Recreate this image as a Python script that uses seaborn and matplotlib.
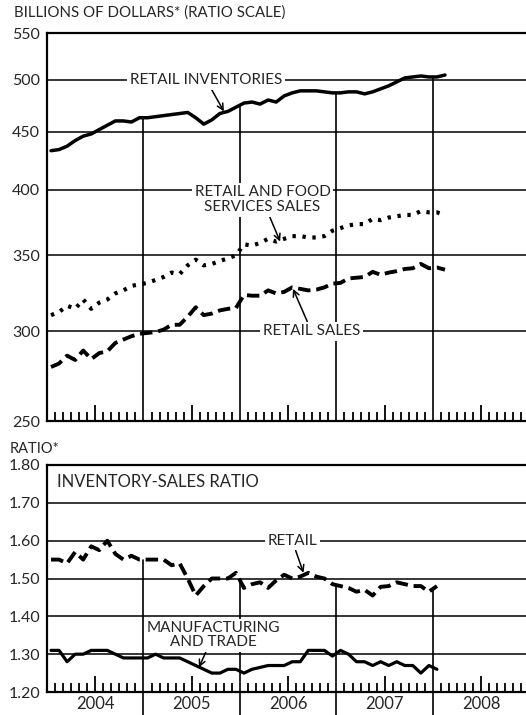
import matplotlib
matplotlib.use("Agg")
import matplotlib.pyplot as plt
import numpy as np
import seaborn as sns

# monthly data, Jan 2004 onward
inventories = [433, 434, 437, 442, 446, 448, 452, 456, 460, 460, 459, 463,
               463, 464, 465, 466, 467, 468, 463, 457, 461, 467, 469, 473,
               477, 478, 476, 480, 478, 484, 487, 489, 489, 489, 488, 487,
               487, 488, 488, 486, 488, 491, 494, 498, 502, 503, 504, 503,
               503, 505]
retail_food_sales = [310, 312, 316, 314, 320, 314, 318, 320, 324, 326, 329, 330,
                     331, 333, 335, 338, 337, 343, 347, 343, 344, 346, 348, 350,
                     358, 357, 359, 362, 360, 362, 364, 364, 363, 363, 364, 368,
                     370, 372, 373, 373, 377, 376, 378, 379, 380, 380, 383, 382,
                     382, 380]
retail_sales = [279, 281, 285.5, 283, 288.5, 283.5, 287, 288, 293, 295, 297, 298.5,
                299, 299.5, 301, 304, 304, 309, 315, 310, 311, 313, 314, 314.5,
                323, 322.5, 322.5, 326, 324, 325, 328, 327, 326, 326.5, 328, 330.5,
                331, 334, 334.5, 335, 338.5, 336.5, 338, 339, 340.5, 341, 344, 341,
                341.5, 340]
retail_ratio = [1.55, 1.55, 1.54, 1.57, 1.55, 1.585, 1.575, 1.60, 1.565, 1.55, 1.56, 1.55,
                1.55, 1.55, 1.55, 1.535, 1.54, 1.50, 1.455, 1.48, 1.50, 1.50, 1.50, 1.515,
                1.475, 1.485, 1.49, 1.475, 1.495, 1.51, 1.50, 1.505, 1.515, 1.505, 1.50, 1.485,
                1.48, 1.475, 1.465, 1.47, 1.455, 1.478, 1.48, 1.49, 1.485, 1.48, 1.48, 1.465,
                1.48]
mfg_trade_ratio = [1.31, 1.31, 1.28, 1.30, 1.30, 1.31, 1.31, 1.31, 1.30, 1.29, 1.29, 1.29,
                   1.29, 1.30, 1.29, 1.29, 1.29, 1.28, 1.27, 1.26, 1.25, 1.25, 1.26, 1.26,
                   1.25, 1.26, 1.265, 1.27, 1.27, 1.27, 1.28, 1.28, 1.31, 1.31, 1.31, 1.295,
                   1.31, 1.30, 1.28, 1.28, 1.27, 1.28, 1.27, 1.28, 1.27, 1.27, 1.25, 1.27,
                   1.26]
years = ["2004", "2005", "2006", "2007", "2008"]
dollar_ticks = [250, 300, 350, 400, 450, 500, 550]
ratio_ticks = [1.20, 1.30, 1.40, 1.50, 1.60, 1.70, 1.80]

sns.set_style("white")
plt.rcParams["font.family"] = ["Lato", "DejaVu Sans"]
plt.rcParams["font.size"] = 11

W, H = 526, 715
x_sales = np.arange(len(inventories)) + 0.5
x_ratio = np.arange(len(retail_ratio)) + 0.5
year_edges = [12, 24, 36, 48]
xmax = (W - 47) / 8.04

fig = plt.figure(figsize=(W / 100, H / 100), dpi=100)
ax1 = fig.add_axes([47 / W, 1 - 421 / H, 1 - 47 / W, (421 - 33) / H])
ax2 = fig.add_axes([47 / W, 1 - 692 / H, 1 - 47 / W, (692 - 465) / H])

minor = [m for m in range(1, 60) if m % 12 not in (0, 6)]
major = [6 + 12 * i for i in range(5)]

for ax in (ax1, ax2):
    ax.set_xlim(0, xmax)
    for side in ("left", "bottom", "top"):
        ax.spines[side].set_linewidth(1.6)
        ax.spines[side].set_color("black")
    ax.spines["right"].set_visible(False)
    ax.set_xticks(minor, minor=True)
    ax.set_xticks(major)
    ax.tick_params(axis="x", which="both", bottom=True, top=False)
    ax.tick_params(axis="x", which="major", direction="in", length=11.5, width=1.3, color="black")
    ax.tick_params(axis="x", which="minor", direction="in", length=6.5, width=1.3, color="black")
    ax.tick_params(axis="y", which="both", length=0, pad=5, labelsize=11.5)

# ---- top panel: dollars, log scale
ax1.set_yscale("log")
ax1.set_ylim(250, 550)
ax1.set_yticks(dollar_ticks)
ax1.set_yticklabels([str(v) for v in dollar_ticks])
ax1.yaxis.set_minor_locator(matplotlib.ticker.NullLocator())
ax1.set_xticklabels([])
for v in dollar_ticks[1:-1]:
    ax1.axhline(v, color="black", lw=1.1, zorder=1)
for e in year_edges:
    top = np.interp(e, x_sales, inventories)
    ax1.plot([e, e], [250, top], color="black", lw=1.2, zorder=1)

sns.lineplot(x=x_sales, y=inventories, ax=ax1, color="black", lw=2.5, zorder=3)
sns.lineplot(x=x_sales, y=retail_food_sales, ax=ax1, color="black", lw=3.0,
             linestyle=(0, (0.8, 1.6)), zorder=3)
sns.lineplot(x=x_sales, y=retail_sales, ax=ax1, color="black", lw=2.8,
             linestyle=(0, (3.2, 1.5)), zorder=3)
ax1.set_ylabel("")

box = dict(facecolor="white", edgecolor="none", pad=2)
arrow = dict(arrowstyle="->", color="black", lw=1.1, shrinkA=0, shrinkB=0)
ax1.annotate("RETAIL INVENTORIES", xy=(22.0, 469), xytext=(19.8, 500),
             ha="center", va="center", bbox=box, arrowprops=arrow, zorder=4)
ax1.annotate("RETAIL AND FOOD\nSERVICES SALES", xy=(29.0, 360), xytext=(26.8, 392),
             ha="center", va="center", bbox=box, arrowprops=arrow, linespacing=1.05, zorder=4)
ax1.annotate("RETAIL SALES", xy=(30.6, 327), xytext=(32.9, 300),
             ha="center", va="center", bbox=box, arrowprops=arrow, zorder=4)
fig.text(14 / W, 1 - 13 / H, "BILLIONS OF DOLLARS* (RATIO SCALE)", ha="left", va="center", fontsize=10.8)

# ---- bottom panel: ratios
ax2.set_ylim(1.20, 1.80)
ax2.set_yticks(ratio_ticks)
ax2.set_yticklabels([f"{v:.2f}" for v in ratio_ticks])
ax2.set_xticklabels(years)
ax2.tick_params(axis="x", which="major", pad=3, labelsize=12)
for v in ratio_ticks[1:-1]:
    ax2.axhline(v, color="black", lw=1.1, zorder=1)
for e in year_edges:
    top = np.interp(e, x_ratio, retail_ratio)
    ax2.plot([e, e], [1.139, top], color="black", lw=1.2, zorder=1, clip_on=False)

sns.lineplot(x=x_ratio, y=retail_ratio, ax=ax2, color="black", lw=2.8,
             linestyle=(0, (3.2, 1.5)), zorder=3)
sns.lineplot(x=x_ratio, y=mfg_trade_ratio, ax=ax2, color="black", lw=2.3, zorder=3)
ax2.set_ylabel("")

ax2.text(1.3, 1.755, "INVENTORY-SALES RATIO", ha="left", va="center", fontsize=12)
ax2.annotate("RETAIL", xy=(31.9, 1.515), xytext=(30.5, 1.60),
             ha="center", va="center", bbox=box, arrowprops=arrow, zorder=4)
ax2.annotate("MANUFACTURING\nAND TRADE", xy=(18.9, 1.265), xytext=(20.7, 1.35),
             ha="center", va="center", bbox=box, arrowprops=arrow, linespacing=1.0, zorder=4)
fig.text(10 / W, 1 - 449 / H, "RATIO*", ha="left", va="center", fontsize=10.5)

fig.savefig("out.png", dpi=100)
